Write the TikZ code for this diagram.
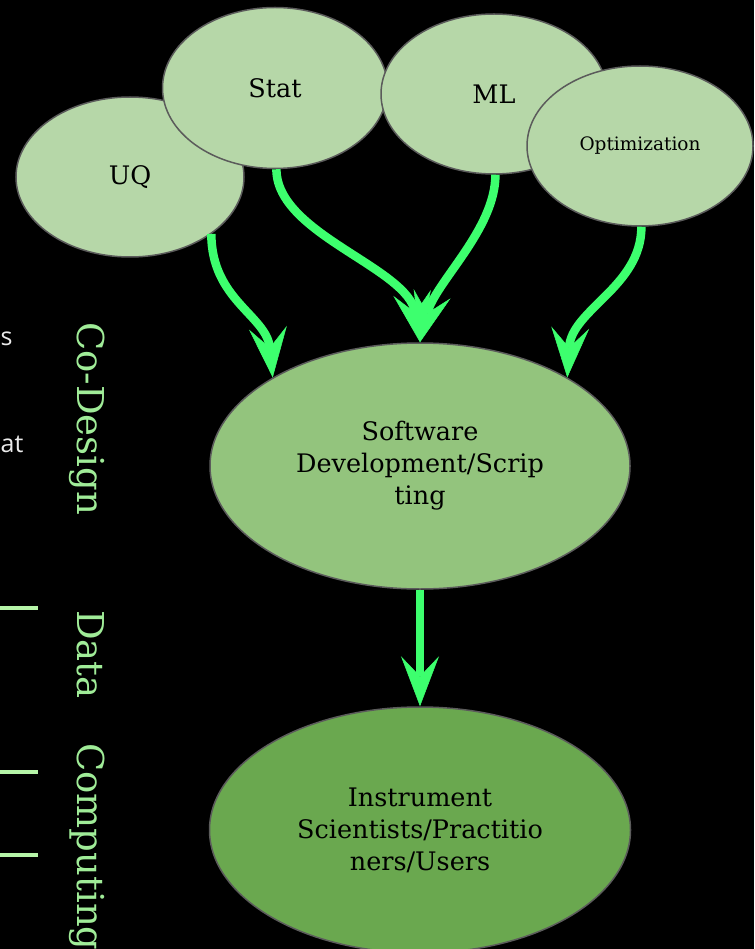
\documentclass[tikz,border=0pt]{standalone}
\usepackage{fontspec}
\setmainfont{DejaVu Serif}
\newfontfamily\cutfont{Open Sans}
\usetikzlibrary{shapes.geometric,arrows.meta}

\definecolor{paleleaf}{HTML}{B6D7A8}
\definecolor{midleaf}{HTML}{93C47D}
\definecolor{darkleaf}{HTML}{6AA84F}
\definecolor{rimgray}{HTML}{5B5B5B}
\definecolor{flowgreen}{RGB}{61,255,110}
\definecolor{sidegreen}{RGB}{160,236,152}
\definecolor{tickgreen}{RGB}{182,245,168}

\begin{document}
\begin{tikzpicture}[x=1pt,y=-1pt,
  bubble/.style={ellipse, draw=rimgray, line width=1.5pt, inner sep=0pt,
    align=center, text=black, font=\fontsize{25.5}{32}\selectfont},
  flow/.style={draw=flowgreen, line width=8.5pt,
    -{Stealth[length=50pt,width=38pt,inset=20pt,line width=0.5pt]}},
  sidelabel/.style={text=sidegreen, inner sep=0pt, anchor=base west,
    rotate=-90, font=\fontsize{37}{40}\selectfont},
  cutlabel/.style={text=white!92!black, inner sep=0pt, anchor=base west,
    font=\cutfont\fontsize{25}{28}\selectfont},
  tick/.style={draw=tickgreen, line width=4pt},
]
% canvas
\fill[black] (0,0) rectangle (754,949);
\clip (0,0) rectangle (754,949);

% clipped text from the neighbouring column
\node[cutlabel] (cuts) at (0.5,345) {s};
\node[cutlabel] (cutat) at (0.5,452) {at};

% separators
\draw[tick] (0,608) -- (38,608);
\draw[tick] (0,772) -- (38,772);
\draw[tick] (0,855) -- (38,855);

% vertical column labels
\node[sidelabel] (codesign) at (77,322) {Co-Design};
\node[sidelabel] (data) at (77,610) {Data};
\node[sidelabel] (computing) at (77,743) {Computing};

% method bubbles (back to front)
\node[bubble, fill=paleleaf, minimum width=228pt, minimum height=160pt] (uq) at (130,177) {UQ};
\node[bubble, fill=paleleaf, minimum width=225pt, minimum height=161pt] (stat) at (275,88) {Stat};
\node[bubble, fill=paleleaf, minimum width=226pt, minimum height=160pt] (ml) at (494,94) {ML};
\node[bubble, fill=paleleaf, minimum width=226pt, minimum height=160pt,
      font=\fontsize{18.5}{22}\selectfont] (opt) at (640,146) {Optimization};

% software layer and users
\node[bubble, fill=midleaf, minimum width=420pt, minimum height=246pt] (sw) at (420,466)
  {Software\\Development/Scrip\\ting};
\node[bubble, fill=darkleaf, minimum width=421pt, minimum height=246pt] (users) at (420,830)
  {Instrument\\Scientists/Practitio\\ners/Users};

% flows
\draw[flow] (uq.-35) .. controls +(0,66) and +(-6,-62) .. (sw.149);
\draw[flow] (stat.-89) .. controls +(0,65) and +(-12,-75) .. (sw.90);
\draw[flow] (ml.-89) .. controls +(0,55) and +(15,-60) .. (sw.90);
\draw[flow] (opt.-89) .. controls +(0,60) and +(4,-68) .. (sw.31);
\draw[flow] (sw.south) -- (users.north);
\end{tikzpicture}
\end{document}
